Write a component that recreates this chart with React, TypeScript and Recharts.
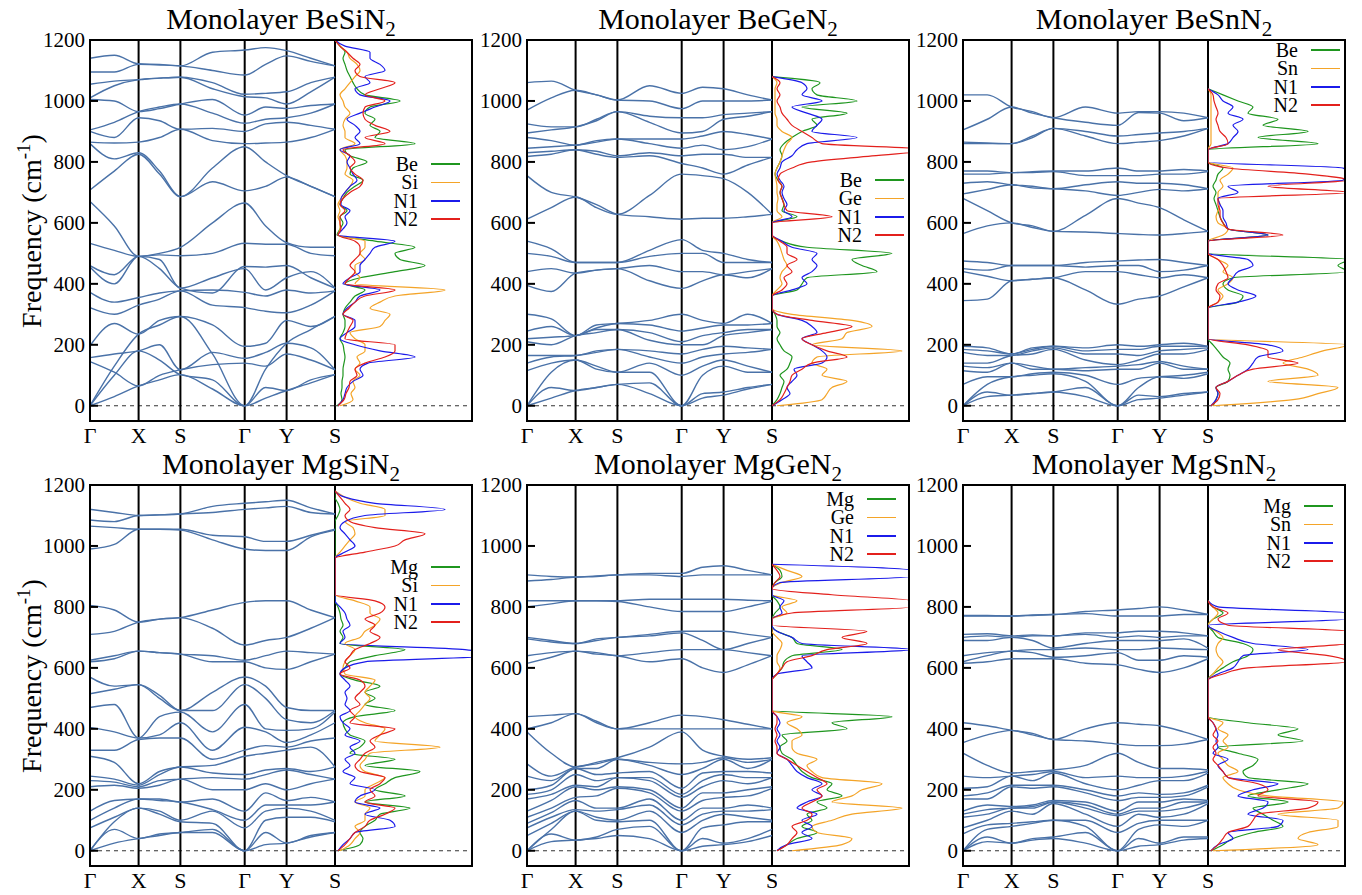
import React from 'react';
import { LineChart, Line, XAxis, YAxis, ReferenceLine } from 'recharts';

// k-path: Γ, mid, X, mid, S, mid, Γ, mid, Y, mid, S (path length in plot px)
const kPos = [0, 24.3, 48.6, 69.5, 90.4, 122.5, 154.7, 175.6, 196.6, 220.8, 245];
const kTicks = [0, 48.6, 90.4, 154.7, 196.6, 245];
const kLabels = ['Γ', 'X', 'S', 'Γ', 'Y', 'S'];
const freqTicks = [0, 200, 400, 600, 800, 1000, 1200];
const dosFreq = [
  0, 20, 40, 60, 80, 100, 120, 140, 160, 180, 200, 220, 240, 260, 280, 300, 320, 340, 360, 380,
  400, 420, 440, 460, 480, 500, 520, 540, 560, 580, 600, 620, 640, 660, 680, 700, 720, 740, 760, 780,
  800, 820, 840, 860, 880, 900, 920, 940, 960, 980, 1000, 1020, 1040, 1060, 1080, 1100, 1120, 1140, 1160, 1180,
  1200,
];

// phonon bands, one row per branch along kPos
const besin2Bands = [
  [0, 30, 65, 85, 102, 55, 0, 25, 50, 75, 102],
  [0, 100, 180, 150, 102, 85, 0, 60, 50, 85, 102],
  [0, 130, 235, 265, 293, 170, 0, 120, 205, 250, 293],
  [145, 110, 65, 100, 118, 135, 140, 130, 170, 150, 118],
  [158, 170, 180, 200, 118, 175, 156, 175, 205, 190, 118],
  [197, 270, 235, 280, 293, 265, 195, 205, 280, 260, 293],
  [322, 300, 330, 350, 377, 330, 322, 310, 305, 330, 377],
  [372, 340, 355, 370, 377, 380, 372, 360, 380, 370, 377],
  [455, 400, 490, 480, 386, 420, 450, 380, 420, 440, 386],
  [460, 430, 490, 450, 386, 370, 457, 455, 460, 420, 386],
  [533, 510, 490, 495, 492, 500, 533, 530, 530, 500, 492],
  [670, 590, 490, 500, 520, 600, 665, 590, 535, 520, 520],
  [708, 770, 825, 760, 686, 735, 705, 720, 750, 720, 686],
  [860, 810, 830, 770, 686, 780, 850, 800, 755, 720, 686],
  [865, 862, 865, 880, 907, 870, 860, 862, 865, 880, 907],
  [900, 880, 945, 935, 907, 910, 900, 925, 930, 920, 907],
  [905, 930, 965, 980, 990, 960, 927, 940, 945, 960, 990],
  [1005, 1000, 965, 975, 990, 1005, 954, 980, 975, 985, 990],
  [1010, 1050, 1070, 1075, 1078, 1040, 1014, 1010, 990, 1030, 1078],
  [1055, 1065, 1070, 1075, 1078, 1060, 1022, 1025, 1030, 1060, 1078],
  [1095, 1095, 1120, 1118, 1115, 1100, 1085, 1120, 1148, 1130, 1115],
  [1140, 1150, 1122, 1120, 1115, 1160, 1167, 1175, 1165, 1140, 1115],
];

const begen2Bands = [
  [0, 25, 50, 60, 70, 40, 0, 25, 35, 55, 70],
  [0, 60, 50, 60, 70, 75, 0, 40, 45, 60, 70],
  [0, 110, 150, 120, 110, 110, 0, 100, 130, 110, 110],
  [115, 140, 150, 130, 110, 140, 100, 130, 150, 130, 110],
  [140, 160, 165, 175, 185, 160, 140, 160, 170, 175, 185],
  [165, 165, 165, 180, 185, 180, 170, 185, 195, 190, 185],
  [210, 200, 230, 240, 250, 215, 200, 200, 230, 240, 250],
  [220, 225, 230, 250, 250, 240, 210, 230, 240, 250, 250],
  [245, 260, 230, 255, 270, 265, 245, 255, 265, 265, 270],
  [300, 285, 230, 265, 270, 280, 300, 280, 270, 300, 270],
  [395, 375, 435, 445, 450, 410, 385, 410, 430, 420, 450],
  [440, 450, 435, 445, 450, 460, 440, 440, 430, 440, 450],
  [500, 490, 470, 470, 470, 490, 500, 500, 470, 470, 470],
  [540, 515, 470, 470, 470, 510, 545, 510, 500, 480, 470],
  [612, 650, 685, 650, 628, 690, 760, 755, 745, 700, 628],
  [755, 700, 685, 660, 628, 620, 612, 615, 615, 620, 628],
  [818, 825, 840, 825, 815, 820, 795, 780, 760, 790, 815],
  [830, 835, 840, 835, 820, 830, 820, 825, 825, 815, 815],
  [845, 850, 855, 865, 875, 860, 845, 855, 840, 850, 875],
  [880, 870, 855, 870, 875, 875, 875, 885, 900, 890, 875],
  [895, 905, 915, 935, 965, 930, 895, 900, 940, 950, 965],
  [925, 915, 915, 940, 965, 950, 945, 945, 955, 960, 965],
  [970, 1010, 1035, 1020, 1003, 1000, 975, 1000, 1000, 1000, 1003],
  [1060, 1065, 1035, 1020, 1003, 1050, 1025, 1045, 1040, 1020, 1003],
];

const besnn2Bands = [
  [0, 30, 35, 40, 45, 30, 0, 20, 25, 35, 45],
  [0, 45, 35, 40, 45, 60, 0, 35, 30, 40, 45],
  [0, 70, 95, 100, 105, 80, 0, 60, 95, 90, 105],
  [70, 95, 95, 105, 110, 100, 70, 90, 95, 100, 110],
  [115, 110, 140, 120, 120, 115, 120, 120, 140, 120, 120],
  [130, 125, 140, 130, 120, 125, 130, 135, 145, 130, 120],
  [140, 140, 165, 170, 185, 150, 135, 150, 170, 170, 185],
  [175, 165, 165, 180, 190, 170, 170, 165, 180, 185, 190],
  [185, 180, 170, 185, 195, 180, 185, 185, 195, 195, 195],
  [195, 190, 170, 190, 195, 190, 200, 195, 200, 205, 195],
  [345, 350, 410, 415, 420, 380, 333, 350, 360, 390, 420],
  [440, 425, 410, 415, 420, 440, 440, 430, 420, 430, 420],
  [450, 445, 460, 460, 460, 455, 460, 460, 440, 445, 460],
  [475, 470, 460, 460, 460, 470, 475, 478, 480, 470, 460],
  [565, 590, 600, 585, 572, 570, 565, 562, 560, 565, 572],
  [680, 640, 600, 590, 572, 625, 680, 665, 650, 610, 572],
  [695, 710, 725, 715, 712, 705, 690, 700, 710, 705, 712],
  [730, 735, 725, 720, 712, 725, 735, 730, 730, 725, 712],
  [760, 760, 765, 765, 768, 755, 755, 755, 760, 760, 768],
  [770, 770, 765, 768, 770, 770, 780, 770, 770, 775, 770],
  [860, 860, 860, 880, 910, 885, 860, 865, 870, 885, 910],
  [865, 862, 860, 885, 910, 900, 885, 890, 895, 900, 910],
  [905, 940, 980, 960, 945, 930, 920, 962, 960, 935, 945],
  [1020, 1020, 980, 965, 945, 980, 960, 965, 965, 960, 945],
];

const mgsin2Bands = [
  [0, 25, 40, 50, 60, 60, 0, 20, 25, 45, 60],
  [0, 70, 40, 55, 60, 70, 0, 60, 25, 50, 60],
  [0, 95, 140, 120, 95, 90, 0, 100, 110, 110, 95],
  [75, 110, 140, 130, 100, 130, 75, 130, 140, 130, 100],
  [100, 140, 170, 165, 160, 135, 100, 150, 150, 150, 160],
  [130, 165, 170, 170, 160, 170, 130, 190, 165, 175, 160],
  [210, 215, 205, 215, 235, 200, 200, 220, 200, 220, 235],
  [230, 225, 210, 230, 235, 240, 235, 250, 265, 250, 235],
  [245, 235, 215, 250, 275, 255, 250, 265, 270, 260, 275],
  [310, 290, 220, 260, 275, 280, 310, 320, 330, 340, 275],
  [330, 330, 365, 370, 370, 300, 330, 345, 340, 360, 370],
  [405, 390, 370, 380, 420, 330, 405, 390, 355, 380, 420],
  [470, 480, 370, 440, 455, 390, 480, 400, 395, 400, 455],
  [515, 530, 545, 500, 460, 460, 545, 500, 430, 420, 460],
  [570, 540, 545, 510, 460, 520, 570, 540, 470, 460, 460],
  [620, 630, 655, 650, 645, 620, 620, 600, 595, 620, 645],
  [625, 640, 655, 650, 645, 640, 625, 640, 655, 650, 645],
  [710, 720, 750, 760, 765, 730, 675, 690, 700, 730, 765],
  [805, 790, 750, 760, 765, 790, 815, 820, 820, 790, 765],
  [990, 1005, 1055, 1055, 1052, 1020, 990, 985, 985, 1030, 1052],
  [1065, 1060, 1055, 1055, 1055, 1035, 1030, 1015, 1015, 1035, 1055],
  [1085, 1080, 1100, 1102, 1105, 1110, 1120, 1125, 1130, 1110, 1105],
  [1120, 1110, 1100, 1102, 1105, 1130, 1140, 1145, 1150, 1125, 1105],
];

const mggen2Bands = [
  [0, 30, 35, 40, 50, 40, 0, 15, 20, 30, 50],
  [0, 55, 35, 45, 70, 80, 0, 40, 25, 40, 70],
  [0, 70, 130, 100, 95, 100, 0, 75, 85, 95, 95],
  [50, 90, 130, 110, 100, 130, 60, 100, 120, 110, 100],
  [75, 110, 135, 130, 135, 150, 85, 120, 130, 130, 135],
  [90, 125, 165, 140, 140, 170, 100, 140, 140, 150, 140],
  [110, 140, 175, 180, 205, 190, 130, 165, 175, 180, 205],
  [130, 165, 210, 200, 210, 200, 140, 190, 190, 200, 210],
  [170, 185, 215, 210, 240, 230, 175, 210, 230, 220, 240],
  [185, 200, 250, 230, 240, 240, 185, 230, 250, 240, 240],
  [200, 215, 270, 250, 255, 260, 205, 255, 260, 260, 255],
  [245, 230, 270, 270, 300, 280, 250, 270, 300, 270, 300],
  [285, 245, 275, 285, 300, 290, 285, 290, 305, 290, 300],
  [390, 320, 275, 290, 305, 340, 390, 330, 310, 300, 305],
  [400, 420, 450, 420, 400, 400, 400, 400, 400, 400, 400],
  [440, 445, 450, 425, 400, 420, 445, 440, 430, 415, 400],
  [615, 635, 655, 645, 640, 620, 630, 600, 585, 610, 640],
  [640, 650, 655, 650, 640, 650, 660, 660, 660, 650, 640],
  [695, 685, 680, 690, 700, 705, 715, 690, 660, 680, 700],
  [700, 690, 680, 695, 700, 710, 720, 720, 720, 710, 700],
  [800, 810, 820, 820, 818, 800, 785, 785, 785, 800, 818],
  [820, 820, 820, 820, 820, 825, 825, 825, 825, 822, 820],
  [885, 890, 898, 900, 905, 905, 900, 905, 905, 905, 905],
  [905, 900, 898, 902, 905, 910, 910, 930, 935, 920, 905],
];

const mgsnn2Bands = [
  [0, 30, 25, 35, 40, 25, 0, 15, 20, 35, 40],
  [0, 45, 25, 40, 45, 60, 0, 40, 25, 45, 45],
  [0, 70, 80, 90, 100, 80, 0, 70, 85, 80, 100],
  [55, 85, 90, 95, 100, 100, 60, 90, 100, 100, 100],
  [75, 100, 130, 120, 155, 120, 80, 120, 110, 120, 155],
  [110, 120, 140, 140, 160, 140, 115, 130, 130, 140, 160],
  [120, 135, 140, 145, 160, 150, 120, 140, 140, 160, 160],
  [130, 150, 145, 150, 165, 160, 130, 160, 160, 170, 165],
  [170, 170, 210, 205, 210, 190, 165, 175, 175, 180, 210],
  [180, 190, 215, 215, 215, 200, 180, 190, 185, 190, 215],
  [205, 210, 245, 230, 255, 220, 200, 215, 230, 230, 255],
  [245, 240, 245, 250, 260, 240, 245, 240, 240, 245, 260],
  [320, 280, 255, 260, 265, 280, 320, 290, 270, 270, 265],
  [355, 380, 395, 380, 365, 360, 350, 345, 345, 350, 365],
  [420, 410, 395, 385, 365, 400, 420, 415, 410, 390, 365],
  [615, 620, 630, 630, 630, 615, 610, 595, 585, 600, 630],
  [620, 640, 655, 650, 635, 640, 650, 625, 625, 640, 635],
  [640, 650, 655, 660, 660, 665, 660, 660, 665, 662, 660],
  [690, 690, 700, 690, 665, 680, 690, 690, 690, 695, 665],
  [700, 705, 700, 705, 705, 710, 700, 705, 700, 705, 705],
  [710, 712, 705, 708, 705, 715, 715, 720, 720, 715, 705],
  [770, 770, 770, 772, 775, 778, 770, 770, 770, 775, 775],
  [772, 772, 770, 774, 775, 785, 790, 795, 800, 790, 775],
];

// projected DOS on dosFreq grid (arbitrary units, panel width = 137)
const besin2Be = [2, 7, 6, 7, 7, 8, 8, 9, 10, 9, 8, 5, 8, 10, 10, 8, 10, 15, 20, 30, 10, 25, 60, 90, 65, 60, 80, 40, 2, 5, 8, 5, 12, 5, 8, 12, 20, 28, 15, 18, 32, 15, 10, 80, 40, 45, 35, 40, 30, 35, 65, 30, 22, 18, 15, 12, 10, 8, 10, 5, 0];
const besin2Si = [5, 18, 16, 20, 18, 25, 20, 25, 22, 30, 30, 20, 15, 45, 50, 55, 35, 45, 60, 110, 20, 25, 20, 20, 30, 25, 30, 30, 3, 5, 5, 3, 5, 3, 6, 10, 15, 18, 10, 12, 12, 10, 5, 20, 10, 10, 8, 10, 15, 10, 8, 5, 10, 15, 20, 25, 22, 15, 12, 5, 0];
const besin2N1 = [3, 8, 10, 12, 18, 28, 25, 33, 80, 45, 20, 5, 12, 20, 20, 8, 12, 20, 25, 45, 8, 15, 25, 25, 30, 35, 40, 60, 3, 8, 12, 10, 15, 6, 6, 10, 15, 22, 18, 15, 12, 15, 5, 25, 20, 25, 20, 12, 25, 40, 55, 25, 20, 35, 30, 50, 45, 35, 35, 10, 0];
const besin2N2 = [3, 9, 11, 14, 15, 22, 20, 30, 50, 60, 60, 10, 12, 15, 18, 8, 14, 20, 30, 60, 10, 15, 20, 15, 20, 25, 25, 20, 3, 6, 5, 5, 10, 5, 8, 15, 25, 28, 20, 15, 20, 15, 8, 50, 30, 55, 40, 30, 28, 30, 50, 30, 45, 60, 25, 20, 25, 18, 12, 5, 0];

const begen2Be = [0, 5, 8, 10, 12, 8, 15, 18, 20, 12, 8, 5, 8, 5, 5, 3, 0, 0, 0, 25, 30, 35, 105, 90, 80, 120, 35, 10, 0, 0, 0, 25, 10, 12, 10, 8, 10, 6, 3, 5, 8, 10, 8, 12, 20, 30, 45, 40, 75, 30, 85, 45, 40, 48, 0];
const begen2Ge = [5, 50, 55, 60, 75, 50, 55, 40, 45, 130, 40, 70, 75, 100, 80, 20, 0, 0, 0, 5, 10, 8, 10, 15, 12, 10, 8, 5, 0, 0, 0, 10, 5, 5, 6, 5, 5, 4, 3, 5, 8, 10, 12, 15, 20, 10, 5, 5, 3, 3, 3, 3, 3, 5, 0];
const begen2N1 = [0, 10, 18, 15, 20, 25, 22, 50, 55, 50, 40, 30, 45, 40, 30, 5, 0, 0, 0, 20, 35, 30, 40, 45, 40, 45, 20, 10, 0, 0, 0, 20, 12, 15, 12, 10, 12, 8, 5, 8, 10, 20, 25, 35, 85, 40, 45, 50, 35, 20, 50, 30, 35, 30, 0];
const begen2N2 = [0, 8, 12, 15, 18, 20, 30, 40, 75, 55, 40, 30, 55, 80, 40, 5, 0, 0, 0, 10, 15, 12, 20, 15, 25, 15, 15, 8, 0, 0, 0, 60, 15, 12, 10, 8, 10, 6, 8, 20, 40, 100, 160, 50, 40, 30, 20, 15, 10, 8, 5, 8, 5, 8, 0];

const besnn2Be = [5, 8, 10, 8, 20, 22, 20, 22, 15, 10, 5, 0, 0, 0, 0, 0, 0, 30, 35, 20, 15, 25, 140, 130, 140, 0, 0, 0, 60, 20, 15, 12, 10, 8, 6, 8, 5, 8, 10, 15, 0, 0, 0, 110, 50, 100, 55, 70, 40, 45, 30, 15, 0];
const besnn2Sn = [5, 85, 110, 130, 60, 110, 100, 75, 95, 115, 140, 0, 0, 0, 0, 0, 0, 10, 15, 10, 20, 25, 15, 20, 10, 0, 0, 0, 15, 20, 10, 8, 10, 12, 10, 10, 15, 12, 20, 25, 0, 0, 0, 3, 3, 3, 3, 3, 3, 3, 3, 3, 0];
const besnn2N1 = [3, 8, 10, 8, 20, 30, 40, 45, 50, 75, 60, 0, 0, 0, 0, 0, 0, 30, 48, 30, 20, 25, 30, 45, 40, 0, 0, 0, 60, 20, 18, 15, 15, 12, 10, 30, 20, 135, 140, 135, 0, 0, 0, 20, 25, 30, 25, 35, 20, 25, 15, 10, 0];
const besnn2N2 = [3, 10, 12, 8, 20, 30, 45, 90, 60, 60, 40, 0, 0, 0, 0, 0, 0, 10, 12, 8, 10, 20, 18, 15, 10, 0, 0, 0, 75, 20, 15, 12, 12, 10, 10, 140, 60, 140, 100, 20, 0, 0, 0, 20, 18, 12, 10, 8, 10, 8, 6, 5, 0];

const mgsin2Mg = [3, 25, 28, 25, 30, 40, 45, 75, 30, 70, 40, 50, 60, 85, 30, 60, 15, 25, 30, 15, 10, 8, 20, 60, 30, 40, 30, 45, 20, 5, 10, 15, 40, 70, 5, 8, 5, 8, 6, 5, 3, 0, 0, 0, 0, 0, 0, 0, 0, 0, 0, 0, 0, 0, 0, 3, 5, 3, 0, 0];
const mgsin2Si = [5, 15, 20, 25, 20, 30, 30, 35, 20, 30, 30, 40, 50, 30, 25, 30, 35, 105, 40, 45, 50, 30, 20, 25, 30, 35, 30, 35, 40, 10, 8, 10, 15, 20, 10, 25, 30, 40, 45, 35, 35, 20, 0, 0, 0, 0, 0, 0, 0, 5, 10, 15, 20, 18, 10, 50, 50, 25, 10, 0];
const mgsin2N1 = [3, 8, 15, 20, 60, 55, 30, 45, 20, 25, 40, 15, 20, 8, 15, 10, 20, 15, 25, 10, 15, 8, 5, 15, 10, 12, 10, 15, 10, 5, 10, 30, 160, 130, 5, 10, 8, 15, 12, 10, 5, 0, 0, 0, 0, 0, 0, 0, 0, 10, 20, 15, 10, 5, 10, 30, 110, 40, 10, 0];
const mgsin2N2 = [3, 10, 15, 20, 30, 35, 50, 60, 30, 40, 35, 45, 50, 25, 20, 25, 30, 40, 35, 45, 60, 15, 20, 15, 25, 20, 25, 30, 25, 5, 15, 10, 15, 20, 35, 45, 35, 40, 30, 45, 50, 40, 0, 0, 0, 0, 0, 0, 0, 30, 60, 70, 90, 40, 15, 10, 15, 10, 5, 0];

const mggen2Mg = [5, 15, 25, 45, 30, 40, 35, 55, 45, 70, 55, 60, 40, 30, 25, 20, 10, 8, 15, 10, 75, 60, 120, 0, 0, 0, 0, 0, 0, 5, 10, 12, 20, 70, 25, 20, 5, 0, 0, 3, 8, 5, 0, 0, 3, 10, 8, 0];
const mggen2Ge = [20, 70, 80, 45, 40, 60, 80, 130, 60, 80, 90, 110, 50, 40, 35, 45, 25, 20, 20, 30, 25, 15, 30, 0, 0, 0, 0, 0, 0, 5, 8, 5, 5, 8, 10, 5, 0, 0, 0, 15, 10, 25, 0, 0, 10, 30, 15, 0];
const mggen2N1 = [5, 15, 40, 30, 40, 30, 45, 25, 35, 50, 40, 50, 35, 25, 20, 15, 5, 8, 5, 8, 5, 8, 5, 0, 0, 0, 0, 0, 0, 5, 40, 35, 30, 140, 30, 20, 5, 0, 0, 10, 8, 12, 0, 0, 8, 140, 140, 0];
const mggen2N2 = [5, 15, 20, 25, 20, 35, 40, 30, 40, 50, 45, 55, 45, 35, 25, 15, 5, 5, 3, 5, 3, 5, 5, 0, 0, 0, 0, 0, 0, 5, 10, 15, 40, 55, 95, 70, 95, 0, 0, 20, 140, 140, 60, 0, 3, 8, 5, 0];

const mgsnn2Mg = [3, 15, 25, 45, 75, 65, 55, 45, 80, 40, 70, 100, 40, 35, 45, 50, 30, 10, 95, 70, 90, 40, 0, 0, 0, 0, 0, 0, 0, 5, 15, 25, 40, 45, 35, 10, 5, 0, 5, 15, 5, 0];
const mgsnn2Sn = [5, 110, 90, 100, 130, 130, 70, 130, 135, 60, 30, 20, 15, 30, 20, 15, 10, 20, 15, 20, 10, 15, 0, 0, 0, 0, 0, 0, 0, 5, 10, 15, 10, 8, 10, 15, 8, 0, 5, 10, 5, 0];
const mgsnn2N1 = [3, 10, 25, 20, 70, 75, 40, 55, 60, 30, 45, 70, 20, 15, 10, 20, 5, 10, 8, 10, 8, 5, 0, 0, 0, 0, 0, 0, 0, 10, 25, 30, 35, 100, 45, 25, 10, 0, 140, 140, 10, 0];
const mgsnn2N2 = [3, 10, 15, 20, 40, 45, 50, 100, 110, 50, 60, 50, 20, 15, 10, 5, 8, 5, 10, 5, 8, 5, 0, 0, 0, 0, 0, 0, 0, 15, 40, 140, 120, 70, 140, 140, 140, 20, 10, 20, 5, 0];

const dosColors = ['#1f961f', '#f4a428', '#1b1bea', '#e3201c'];
const bandColor = '#4a72a8';
const serif = '"Liberation Serif", "DejaVu Serif", serif';

const PLOT_H = 381;
const BAND_W = 245;
const DOS_W = 137;
const COL_LEFT = [90, 527, 963];
const ROW_TOP = [40, 485];

const panels = [
  { name: 'BeSiN', col: 0, row: 0, bands: besin2Bands, dos: [besin2Be, besin2Si, besin2N1, besin2N2], labels: ['Be', 'Si', 'N1', 'N2'], legendY: 164, legendRight: 418 },
  { name: 'BeGeN', col: 1, row: 0, bands: begen2Bands, dos: [begen2Be, begen2Ge, begen2N1, begen2N2], labels: ['Be', 'Ge', 'N1', 'N2'], legendY: 180, legendRight: 862 },
  { name: 'BeSnN', col: 2, row: 0, bands: besnn2Bands, dos: [besnn2Be, besnn2Sn, besnn2N1, besnn2N2], labels: ['Be', 'Sn', 'N1', 'N2'], legendY: 50, legendRight: 1298 },
  { name: 'MgSiN', col: 0, row: 1, bands: mgsin2Bands, dos: [mgsin2Mg, mgsin2Si, mgsin2N1, mgsin2N2], labels: ['Mg', 'Si', 'N1', 'N2'], legendY: 567, legendRight: 418 },
  { name: 'MgGeN', col: 1, row: 1, bands: mggen2Bands, dos: [mggen2Mg, mggen2Ge, mggen2N1, mggen2N2], labels: ['Mg', 'Ge', 'N1', 'N2'], legendY: 499, legendRight: 854 },
  { name: 'MgSnN', col: 2, row: 1, bands: mgsnn2Bands, dos: [mgsnn2Mg, mgsnn2Sn, mgsnn2N1, mgsnn2N2], labels: ['Mg', 'Sn', 'N1', 'N2'], legendY: 506, legendRight: 1291 },
];

const KTick = (props: any) => (
  <text x={props.x} y={props.y} dy="0.66em" textAnchor="middle" fill="#000" style={{ fontFamily: serif, fontSize: 22 }}>
    {kLabels[props.index]}
  </text>
);

const FreqTick = (props: any) => (
  <text x={props.x} y={props.y} dy="0.34em" textAnchor="end" fill="#000" style={{ fontFamily: serif, fontSize: 21 }}>
    {props.payload.value}
  </text>
);

function BandChart({ bands, left, top }: { bands: number[][]; left: number; top: number }) {
  const rows = kPos.map((k, j) => {
    const row: Record<string, number> = { k };
    bands.forEach((b, i) => {
      row['b' + i] = b[j];
    });
    return row;
  });
  return (
    <div style={{ position: 'absolute', left: left - 60, top: top - 20 }}>
      <LineChart width={60 + BAND_W + 5} height={20 + PLOT_H + 32} data={rows} margin={{ top: 20, right: 5, bottom: 0, left: 0 }}>
        <XAxis
          type="number"
          dataKey="k"
          domain={[0, BAND_W]}
          ticks={kTicks}
          interval={0}
          axisLine={false}
          tickLine={false}
          tickSize={0}
          tickMargin={7}
          height={32}
          tick={<KTick />}
        />
        <YAxis
          type="number"
          domain={[-50, 1200]}
          ticks={freqTicks}
          interval={0}
          width={60}
          axisLine={false}
          tickSize={-8}
          tickMargin={13}
          tickLine={{ stroke: '#000', strokeWidth: 2 }}
          tick={<FreqTick />}
        />
        <ReferenceLine y={0} stroke="#333" strokeDasharray="4 4" />
        {kTicks.slice(1).map((k, i) => (
          <ReferenceLine key={'v' + i} x={k} stroke="#000" strokeWidth={2} />
        ))}
        {bands.map((_, i) => (
          <Line
            key={'b' + i}
            dataKey={'b' + i}
            type="monotone"
            stroke={bandColor}
            strokeWidth={1.4}
            dot={false}
            isAnimationActive={false}
          />
        ))}
      </LineChart>
    </div>
  );
}

function DosChart({ dos, left, top }: { dos: number[][]; left: number; top: number }) {
  return (
    <div style={{ position: 'absolute', left: left - 10, top: top - 10 }}>
      <LineChart width={10 + DOS_W + 5} height={10 + PLOT_H + 5} margin={{ top: 10, right: 5, bottom: 5, left: 10 }}>
        <XAxis type="number" dataKey="v" domain={[0, DOS_W]} allowDataOverflow hide />
        <YAxis
          type="number"
          dataKey="f"
          domain={[-50, 1200]}
          ticks={freqTicks}
          interval={0}
          width={0}
          axisLine={false}
          tick={false}
          tickSize={8}
          tickLine={{ stroke: '#000', strokeWidth: 2 }}
        />
        <ReferenceLine y={0} stroke="#333" strokeDasharray="4 4" />
        {dos.map((vals, c) => (
          <Line
            key={'d' + c}
            data={vals.map((v, i) => ({ f: dosFreq[i], v })).reverse()}
            dataKey="f"
            type="monotoneY"
            stroke={dosColors[c]}
            strokeWidth={1.2}
            dot={false}
            isAnimationActive={false}
          />
        ))}
      </LineChart>
    </div>
  );
}

export default function App() {
  return (
    <div style={{ position: 'absolute', left: 0, top: 0, width: 1362, height: 895, background: '#fff', fontFamily: serif, color: '#000', overflow: 'hidden' }}>
      {panels.map((p) => {
        const L = COL_LEFT[p.col];
        const T = ROW_TOP[p.row];
        const S = L + BAND_W;
        const R = S + DOS_W;
        return (
          <React.Fragment key={p.name}>
            <div
              style={{
                position: 'absolute',
                left: L,
                width: R - L,
                top: T - 32,
                height: 22,
                fontSize: 30,
                lineHeight: '22px',
                textAlign: 'center',
                whiteSpace: 'nowrap',
              }}
            >
              Monolayer {p.name}
              <span style={{ fontSize: 21, position: 'relative', top: 7 }}>2</span>
            </div>
            {p.col === 0 && (
              <div
                style={{
                  position: 'absolute',
                  left: 32 - 150,
                  top: T + PLOT_H / 2 - 18,
                  width: 300,
                  height: 36,
                  lineHeight: '36px',
                  fontSize: 28,
                  textAlign: 'center',
                  transform: 'rotate(-90deg)',
                  whiteSpace: 'nowrap',
                }}
              >
                Frequency (cm<span style={{ fontSize: 19, position: 'relative', top: -11 }}>-1</span>)
              </div>
            )}
            <BandChart bands={p.bands} left={L} top={T} />
            <DosChart dos={p.dos} left={S} top={T} />
            <div
              style={{
                position: 'absolute',
                left: L - 1,
                top: T - 1,
                width: R - L + 2,
                height: PLOT_H + 2,
                border: '2px solid #000',
                boxSizing: 'border-box',
                pointerEvents: 'none',
              }}
            />
            {p.labels.map((lab, i) => {
              const y = p.legendY + i * 18.4;
              return (
                <React.Fragment key={lab}>
                  <div
                    style={{
                      position: 'absolute',
                      left: p.legendRight - 60,
                      width: 60,
                      top: y - 9,
                      height: 18,
                      lineHeight: '18px',
                      fontSize: 20,
                      textAlign: 'right',
                    }}
                  >
                    {lab}
                  </div>
                  <div
                    style={{
                      position: 'absolute',
                      left: p.legendRight + 13,
                      width: 29,
                      top: y - 0.75,
                      height: 1.5,
                      background: dosColors[i],
                    }}
                  />
                </React.Fragment>
              );
            })}
          </React.Fragment>
        );
      })}
    </div>
  );
}
